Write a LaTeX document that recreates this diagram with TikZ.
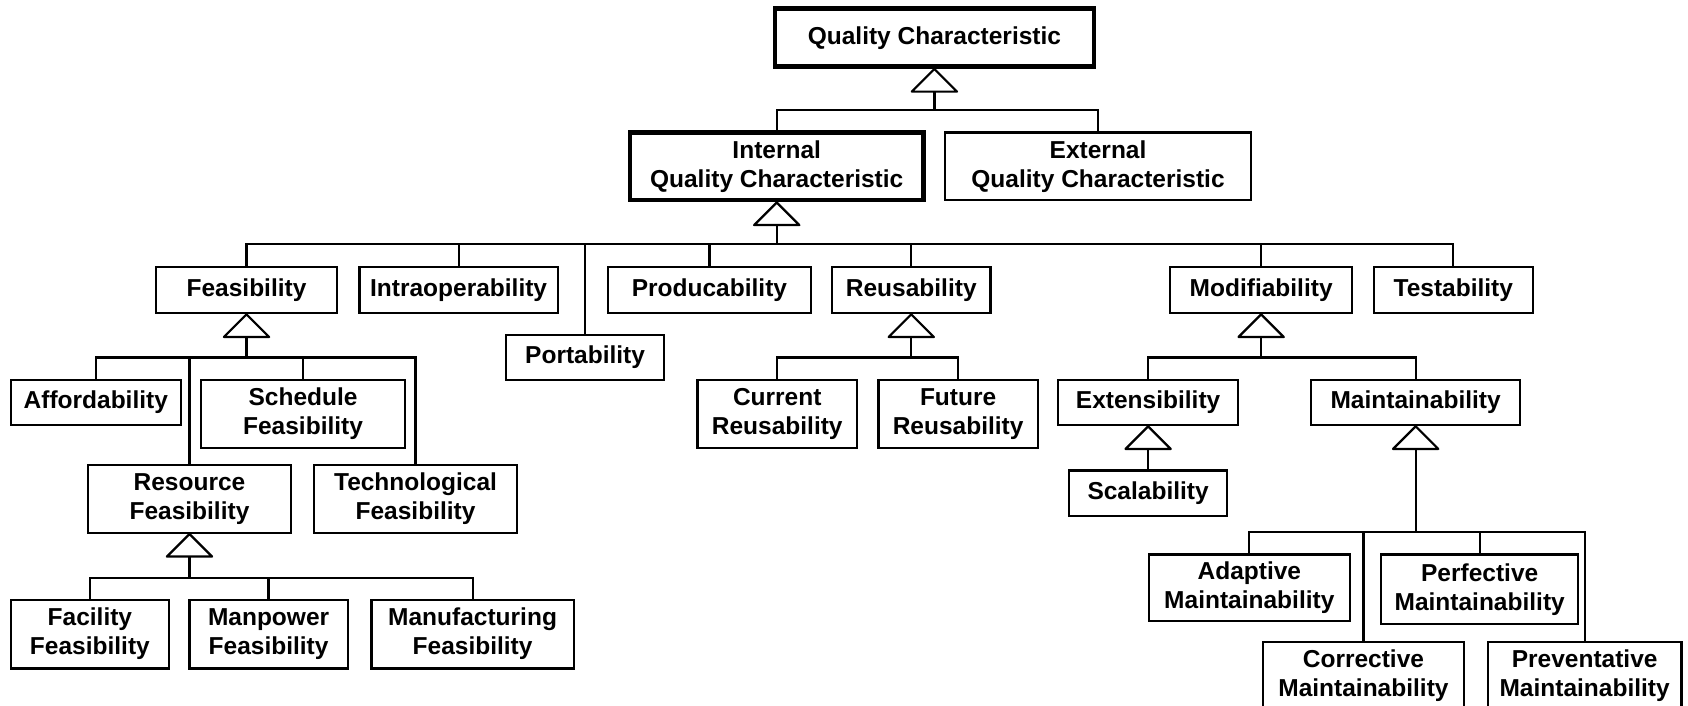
\documentclass[tikz,border=0pt]{standalone}
\usepackage{fontspec}
\setmainfont{Liberation Sans}
\usetikzlibrary{calc}
\begin{document}
\begin{tikzpicture}[x=1.0765pt,y=-1.0765pt,line width=2.2pt,
  box/.style={draw,line width=2.2pt,align=center,inner sep=0pt,
    font=\bfseries\fontsize{24.5}{29}\selectfont},
  thickbox/.style={box,line width=4.5pt},
  sz/.style 2 args={minimum width=#1*1.0765pt,minimum height=#2*1.0765pt},
  tri/.style={draw,fill=white,line join=round},
  conn/.style={draw,line join=miter}]
\useasboundingbox (0,0) rectangle (1568,655);
\clip (0,0) rectangle (1568,655);
% nodes
\node[thickbox,sz={296}{54}] (Q) at (868,35) {Quality Characteristic};
\node[thickbox,sz={273}{63}] (IQ) at (721.5,154.5) {Internal\\Quality Characteristic};
\node[box,sz={284}{63}] (EQ) at (1020,154.5) {External\\Quality Characteristic};
\node[box,sz={168}{43}] (Fe) at (229,269.5) {Feasibility};
\node[box,sz={184}{43}] (In) at (426,269.5) {Intraoperability};
\node[box,sz={188}{43}] (Pr) at (659,269.5) {Producability};
\node[box,sz={147}{43}] (Re) at (846.5,269.5) {Reusability};
\node[box,sz={169}{43}] (Mo) at (1171.5,269.5) {Modifiability};
\node[box,sz={148}{43}] (Te) at (1350,269.5) {Testability};
\node[box,sz={147}{42}] (Po) at (543.5,332) {Portability};
\node[box,sz={158}{42}] (Af) at (89,374) {Affordability};
\node[box,sz={189}{63}] (Sc) at (281.5,384.5) {Schedule\\Feasibility};
\node[box,sz={188}{63}] (RF) at (176,463.5) {Resource\\Feasibility};
\node[box,sz={188}{63}] (TF) at (386,463.5) {Technological\\Feasibility};
\node[box,sz={147}{64}] (FF) at (83.5,589) {Facility\\Feasibility};
\node[box,sz={147}{64}] (MF) at (249.5,589) {Manpower\\Feasibility};
\node[box,sz={188}{64}] (MuF) at (439,589) {Manufacturing\\Feasibility};
\node[box,sz={148}{63}] (CR) at (722,384.5) {Current\\Reusability};
\node[box,sz={148}{63}] (FR) at (890,384.5) {Future\\Reusability};
\node[box,sz={167}{42}] (Ex) at (1066.5,374) {Extensibility};
\node[box,sz={194}{42}] (Ma) at (1315,374) {Maintainability};
\node[box,sz={147}{42}] (Sca) at (1066.5,458) {Scalability};
\node[box,sz={187}{62}] (AM) at (1160.5,546) {Adaptive\\Maintainability};
\node[box,sz={183}{65}] (PM) at (1374.5,547.5) {Perfective\\Maintainability};
\node[box,sz={187}{63}] (CM) at (1266.5,627.5) {Corrective\\Maintainability};
\node[box,sz={180}{63}] (PvM) at (1472,627.5) {Preventative\\Maintainability};
% bus levels
\coordinate (bQ) at (0,102);
\coordinate (bIQ) at (0,227);
\coordinate (bFe) at (0,332);
\coordinate (bRF) at (0,537);
\coordinate (bRe) at (0,332);
\coordinate (bMo) at (0,332);
\coordinate (bMa) at (0,494);
% connectors
\foreach \c in {IQ,EQ}
  \draw[conn] ($(Q.south)+(0,21)$) -- (Q.south |- bQ) -| (\c.north);
\foreach \c in {Fe,In,Po,Pr,Re,Mo,Te}
  \draw[conn] ($(IQ.south)+(0,21)$) -- (IQ.south |- bIQ) -| (\c.north);
\foreach \c in {Af,RF,Sc,TF}
  \draw[conn] ($(Fe.south)+(0,21)$) -- (Fe.south |- bFe) -| (\c.north);
\foreach \c in {FF,MF,MuF}
  \draw[conn] ($(RF.south)+(0,21)$) -- (RF.south |- bRF) -| (\c.north);
\foreach \c in {CR,FR}
  \draw[conn] ($(Re.south)+(0,21)$) -- (Re.south |- bRe) -| (\c.north);
\foreach \c in {Ex,Ma}
  \draw[conn] ($(Mo.south)+(0,21)$) -- (Mo.south |- bMo) -| (\c.north);
\foreach \c in {AM,CM,PM,PvM}
  \draw[conn] ($(Ma.south)+(0,21)$) -- (Ma.south |- bMa) -| (\c.north);
\draw[conn] ($(Ex.south)+(0,21)$) -- (Sca.north);
% generalization triangles
\foreach \p in {Q,IQ,Fe,RF,Re,Mo,Ex,Ma}
  \draw[tri] (\p.south) -- ++(-21,21) -- ++(42,0) -- cycle;
\end{tikzpicture}
\end{document}
